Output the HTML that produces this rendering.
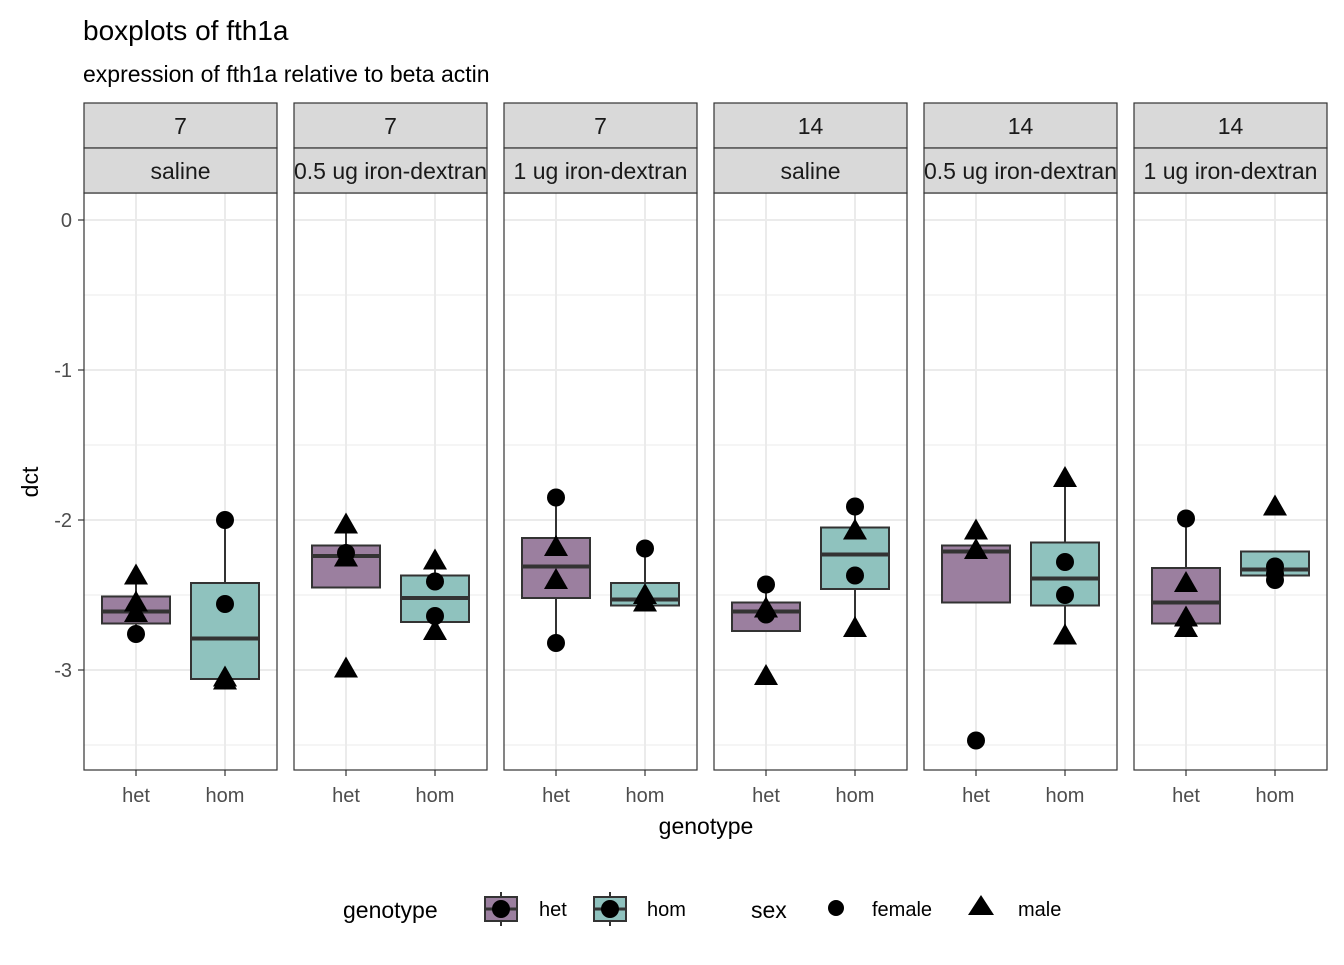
<!DOCTYPE html><html><head><meta charset="utf-8"><style>body{margin:0;background:#fff}svg text{font-family:"Liberation Sans",Arial,sans-serif}</style></head><body>
<svg id="chart" width="1344" height="960" xmlns="http://www.w3.org/2000/svg">
<text x="83" y="40" font-size="28">boxplots of fth1a</text>
<text x="83" y="82" font-size="23">expression of fth1a relative to beta actin</text>
<g id="panels"></g>
<text x="706" y="834" font-size="23" text-anchor="middle">genotype</text>
<text transform="translate(38,482) rotate(-90)" font-size="23" text-anchor="middle">dct</text>
<g>
<text x="343" y="918" font-size="23">genotype</text>
<g><line x1="501" y1="892" x2="501" y2="926" stroke="#333" stroke-width="2"/><rect x="485" y="897" width="32" height="24" fill="#9b7f9f" stroke="#333" stroke-width="2"/><line x1="485" y1="909" x2="517" y2="909" stroke="#333" stroke-width="3"/><circle cx="501" cy="909" r="9"/><text x="539" y="916" font-size="20">het</text></g>
<g><line x1="610" y1="892" x2="610" y2="926" stroke="#333" stroke-width="2"/><rect x="594" y="897" width="32" height="24" fill="#8fc2be" stroke="#333" stroke-width="2"/><line x1="594" y1="909" x2="626" y2="909" stroke="#333" stroke-width="3"/><circle cx="610" cy="909" r="9"/><text x="647" y="916" font-size="20">hom</text></g>
<text x="751" y="918" font-size="23">sex</text>
<g><circle cx="836" cy="908" r="8"/><text x="872" y="916" font-size="20">female</text></g>
<g><polygon points="981,895 994,915 968,915"/><text x="1018" y="916" font-size="20">male</text></g>
</g>
</svg>
<script>
const dayLabels=["7","7","7","14","14","14"];
const treatLabels=["saline","0.5 ug iron-dextran","1 ug iron-dextran","saline","0.5 ug iron-dextran","1 ug iron-dextran"];
const genotypes=["het","hom"];
const yTicks=[0,-1,-2,-3];
// [whiskerLow,q1,median,q3,whiskerHigh] per panel per genotype
const hetBoxes=[[-2.76,-2.69,-2.61,-2.51,-2.37],[-2.45,-2.45,-2.24,-2.17,-2.03],[-2.82,-2.52,-2.31,-2.12,-1.85],[-2.74,-2.74,-2.61,-2.55,-2.43],[-2.55,-2.55,-2.21,-2.17,-2.07],[-2.72,-2.69,-2.55,-2.32,-1.99]];
const homBoxes=[[-3.07,-3.06,-2.79,-2.42,-2.0],[-2.74,-2.68,-2.52,-2.37,-2.27],[-2.57,-2.57,-2.53,-2.42,-2.19],[-2.72,-2.46,-2.23,-2.05,-1.91],[-2.77,-2.57,-2.39,-2.15,-1.72],[-2.40,-2.37,-2.33,-2.21,-2.21]];
// points: [value, sex] sex 0=female 1=male
const hetPoints=[[[-2.37,1],[-2.55,1],[-2.62,1],[-2.76,0]],[[-2.03,1],[-2.22,0],[-2.25,1],[-2.99,1]],[[-1.85,0],[-2.18,1],[-2.40,1],[-2.82,0]],[[-2.43,0],[-2.59,1],[-2.63,0],[-3.04,1]],[[-2.07,1],[-2.20,1],[-3.47,0]],[[-1.99,0],[-2.42,1],[-2.65,1],[-2.72,1]]];
const homPoints=[[[-2.0,0],[-2.56,0],[-3.05,1],[-3.07,1]],[[-2.27,1],[-2.41,0],[-2.64,0],[-2.74,1]],[[-2.19,0],[-2.50,1],[-2.55,1]],[[-1.91,0],[-2.07,1],[-2.37,0],[-2.72,1]],[[-1.72,1],[-2.28,0],[-2.50,0],[-2.77,1]],[[-1.91,1],[-2.31,0],[-2.36,0],[-2.40,0]]];
const NS="http://www.w3.org/2000/svg";
const g=document.getElementById("panels");
const y=v=>220-150*v;
const panelX=i=>84+i*210, PW=193, topY=193, botY=770;
function el(t,a,p){const e=document.createElementNS(NS,t);for(const k in a)e.setAttribute(k,a[k]);(p||g).appendChild(e);return e;}
const fills=["#9b7f9f","#8fc2be"];
for(let i=0;i<6;i++){
 const x0=panelX(i);const xp=j=>x0+52+j*89;
 const pg=el("g",{});
 el("rect",{x:x0,y:topY,width:PW,height:botY-topY,fill:"#fff"},pg);
 for(const v of [-0.5,-1.5,-2.5,-3.5])el("line",{x1:x0,x2:x0+PW,y1:y(v),y2:y(v),stroke:"#ebebeb","stroke-width":1},pg);
 for(const v of yTicks)el("line",{x1:x0,x2:x0+PW,y1:y(v),y2:y(v),stroke:"#ebebeb","stroke-width":2},pg);
 for(let j=0;j<2;j++)el("line",{x1:xp(j),x2:xp(j),y1:topY,y2:botY,stroke:"#ebebeb","stroke-width":2},pg);
 [hetBoxes[i],homBoxes[i]].forEach((b,j)=>{
  const bg=el("g",{},pg);
  const cx=xp(j);
  el("line",{x1:cx,x2:cx,y1:y(b[0]),y2:y(b[4]),stroke:"#333","stroke-width":2},bg);
  el("rect",{x:cx-34,y:y(b[3]),width:68,height:y(b[1])-y(b[3]),fill:fills[j],stroke:"#333","stroke-width":2},bg);
  el("line",{x1:cx-34,x2:cx+34,y1:y(b[2]),y2:y(b[2]),stroke:"#333","stroke-width":4},bg);
 });
 [hetPoints[i],homPoints[i]].forEach((ps,j)=>{const cx=xp(j);ps.forEach(p=>{const yy=y(p[0]);let m;
  if(p[1]===0)m=el("circle",{cx:cx,cy:yy,r:9},pg);else m=el("polygon",{points:`${cx},${yy-12} ${cx+12},${yy+9} ${cx-12},${yy+9}`},pg);
  });});
 el("rect",{x:x0,y:topY,width:PW,height:botY-topY,fill:"none",stroke:"#333","stroke-width":1.2},pg);
 for(let k=0;k<2;k++){const sy=103+k*45;el("rect",{x:x0,y:sy,width:PW,height:45,fill:"#d9d9d9",stroke:"#333","stroke-width":1.2},pg);
  const t=el("text",{x:x0+PW/2,y:sy+31,"font-size":23,"text-anchor":"middle",fill:"#1a1a1a"},pg);t.textContent=k?treatLabels[i]:dayLabels[i];
  }
 for(let j=0;j<2;j++){el("line",{x1:xp(j),x2:xp(j),y1:botY,y2:botY+6,stroke:"#333","stroke-width":1.2},pg);
  const t=el("text",{x:xp(j),y:802,"font-size":20,"text-anchor":"middle",fill:"#4d4d4d"},pg);t.textContent=genotypes[j];
  }
}
yTicks.forEach(v=>{el("line",{x1:78,x2:84,y1:y(v),y2:y(v),stroke:"#333","stroke-width":1.2});
 const t=el("text",{x:72,y:y(v)+7,"font-size":20,"text-anchor":"end",fill:"#4d4d4d"});t.textContent=v;
 });
</script></body></html>
